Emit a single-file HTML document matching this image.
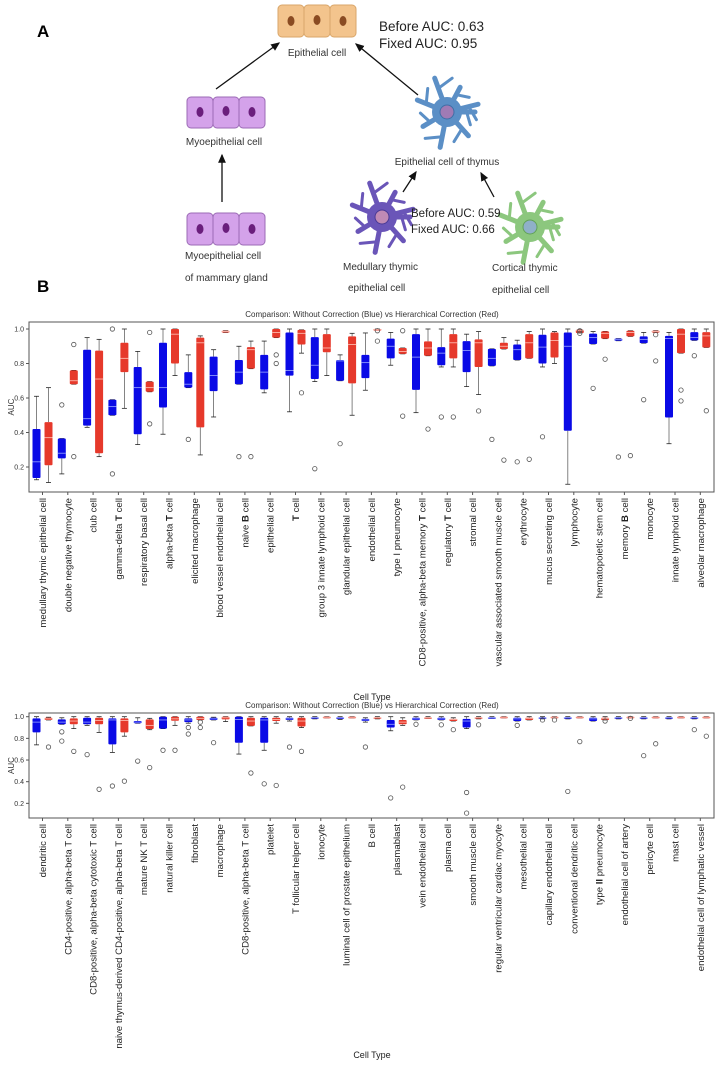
<!DOCTYPE html>
<html><head><meta charset="utf-8">
<style>
html,body{margin:0;padding:0;background:#fff;}
svg{display:block;font-family:"Liberation Sans",Arial,sans-serif;}
</style></head>
<body>
<svg id="fig" width="721" height="1083" viewBox="0 0 721 1083" xmlns="http://www.w3.org/2000/svg">
<defs>
<marker id="arr" markerWidth="8" markerHeight="8" refX="6" refY="4" orient="auto"><path d="M0,1 L7,4 L0,7 z" fill="#111"/></marker>
</defs>
<g>
<text x="37" y="37" font-size="17" font-weight="bold">A</text>
<g>
<rect x="278" y="5" width="26" height="32" rx="4" fill="#f3c48d" stroke="#d9a66a"/>
<rect x="304" y="5" width="26" height="32" rx="4" fill="#f3c48d" stroke="#d9a66a"/>
<rect x="330" y="5" width="26" height="32" rx="4" fill="#f3c48d" stroke="#d9a66a"/>
<ellipse cx="291" cy="21" rx="3.5" ry="5" fill="#8a4b22"/><ellipse cx="317" cy="20" rx="3.5" ry="5" fill="#8a4b22"/><ellipse cx="343" cy="21" rx="3.5" ry="5" fill="#8a4b22"/>
</g>
<text x="317" y="56" font-size="10" text-anchor="middle" fill="#333">Epithelial cell</text>
<text x="379" y="31" font-size="13.5" fill="#222">Before AUC: 0.63</text>
<text x="379" y="48" font-size="13.5" fill="#222">Fixed AUC: 0.95</text>
<g>
<rect x="187" y="97" width="26" height="31" rx="4" fill="#d4a2ea" stroke="#9b6bb5"/><rect x="213" y="97" width="26" height="31" rx="4" fill="#d4a2ea" stroke="#9b6bb5"/><rect x="239" y="97" width="26" height="31" rx="4" fill="#d4a2ea" stroke="#9b6bb5"/>
<ellipse cx="200" cy="112" rx="3.5" ry="5" fill="#6a1e7c"/><ellipse cx="226" cy="111" rx="3.5" ry="5" fill="#6a1e7c"/><ellipse cx="252" cy="112" rx="3.5" ry="5" fill="#6a1e7c"/>
</g>
<text x="224" y="145" font-size="10" text-anchor="middle" fill="#333">Myoepithelial cell</text>
<g>
<rect x="187" y="213" width="26" height="32" rx="4" fill="#d4a2ea" stroke="#9b6bb5"/><rect x="213" y="213" width="26" height="32" rx="4" fill="#d4a2ea" stroke="#9b6bb5"/><rect x="239" y="213" width="26" height="32" rx="4" fill="#d4a2ea" stroke="#9b6bb5"/>
<ellipse cx="200" cy="229" rx="3.5" ry="5" fill="#6a1e7c"/><ellipse cx="226" cy="228" rx="3.5" ry="5" fill="#6a1e7c"/><ellipse cx="252" cy="229" rx="3.5" ry="5" fill="#6a1e7c"/>
</g>
<text x="185" y="259" font-size="10" fill="#333">Myoepithelial cell</text>
<text x="185" y="281" font-size="10" fill="#333">of mammary gland</text>
<line x1="216" y1="89" x2="279" y2="43" stroke="#111" stroke-width="1.3" marker-end="url(#arr)"/>
<line x1="222" y1="202" x2="222" y2="155" stroke="#111" stroke-width="1.3" marker-end="url(#arr)"/>
<line x1="418" y1="95" x2="356" y2="44" stroke="#111" stroke-width="1.3" marker-end="url(#arr)"/>
<line x1="403" y1="192" x2="416" y2="172" stroke="#111" stroke-width="1.3" marker-end="url(#arr)"/>
<line x1="494" y1="197" x2="481" y2="173" stroke="#111" stroke-width="1.3" marker-end="url(#arr)"/>
<g id="stars"></g>
<text x="447" y="165" font-size="10" text-anchor="middle" fill="#333">Epithelial cell of thymus</text>
<text x="343" y="270" font-size="10" fill="#333">Medullary thymic</text>
<text x="348" y="291" font-size="10" fill="#333">epithelial cell</text>
<text x="492" y="271" font-size="10" fill="#333">Cortical thymic</text>
<text x="492" y="293" font-size="10" fill="#333">epithelial cell</text>
<text x="411" y="217" font-size="11.5" fill="#222">Before AUC: 0.59</text>
<text x="411" y="233" font-size="11.5" fill="#222">Fixed AUC: 0.66</text>
</g>
<text x="37" y="292" font-size="17" font-weight="bold">B</text>
<g id="chart1"></g>
<g id="chart2"></g>
</svg>
<script>
// ---------- Chart 1 data ----------
const topCats = ["medullary thymic epithelial cell","double negative thymocyte","club cell","gamma-delta **T** cell","respiratory basal cell","alpha-beta **T** cell","elicited macrophage","blood vessel endothelial cell","naive **B** cell","epithelial cell","**T** cell","group 3 innate lymphoid cell","glandular epithelial cell","endothelial cell","type I pneumocyte","CD8-positive, alpha-beta memory **T** cell","regulatory **T** cell","stromal cell","vascular associated smooth muscle cell","erythrocyte","mucus secreting cell","lymphocyte","hematopoietic stem cell","memory **B** cell","monocyte","innate lymphoid cell","alveolar macrophage"];
// [q1, median, q3, whiskerLow, whiskerHigh]
const topBlue = [[0.136,0.23,0.42,0.126,0.61],[0.25,0.28,0.365,0.16,0.365],[0.44,0.48,0.88,0.43,0.95],[0.50,0.55,0.59,0.50,0.59],[0.39,0.66,0.78,0.33,0.87],[0.545,0.66,0.92,0.39,1.0],[0.66,0.68,0.75,0.66,0.85],[0.64,0.73,0.84,0.49,0.88],[0.68,0.75,0.82,0.68,0.9],[0.65,0.75,0.85,0.63,0.93],[0.73,0.76,0.98,0.52,1.0],[0.71,0.79,0.953,0.695,1.0],[0.70,0.815,0.82,0.70,0.85],[0.715,0.805,0.85,0.645,0.977],[0.83,0.9,0.944,0.79,0.98],[0.647,0.837,0.97,0.515,1.0],[0.79,0.86,0.895,0.78,1.0],[0.75,0.875,0.93,0.666,0.97],[0.786,0.83,0.885,0.786,0.885],[0.82,0.88,0.91,0.82,0.935],[0.80,0.895,0.967,0.78,1.0],[0.41,0.90,0.98,0.10,1.0],[0.913,0.95,0.973,0.913,0.985],[0.932,0.938,0.944,0.932,0.944],[0.918,0.94,0.957,0.918,0.98],[0.487,0.945,0.96,0.335,0.98],[0.934,0.95,0.982,0.934,1.0]];
const topRed = [[0.21,0.37,0.46,0.11,0.66],[0.68,0.70,0.76,0.68,0.76],[0.28,0.71,0.875,0.26,0.94],[0.75,0.83,0.92,0.54,1.0],[0.636,0.66,0.695,0.636,0.695],[0.80,0.97,1.0,0.73,1.0],[0.43,0.92,0.95,0.27,0.96],[0.98,0.985,0.99,0.98,0.99],[0.77,0.88,0.895,0.77,0.93],[0.95,0.98,1.0,0.95,1.0],[0.91,0.975,0.995,0.86,0.995],[0.865,0.89,0.97,0.73,1.0],[0.685,0.91,0.957,0.50,0.975],[0.995,0.998,1.0,0.995,1.0],[0.856,0.87,0.89,0.856,0.89],[0.845,0.89,0.928,0.845,1.0],[0.83,0.92,0.97,0.78,1.0],[0.78,0.92,0.94,0.62,0.985],[0.884,0.9,0.92,0.884,0.95],[0.83,0.92,0.97,0.83,0.985],[0.835,0.934,0.98,0.80,0.985],[0.977,0.99,0.996,0.977,0.996],[0.944,0.975,0.986,0.944,0.986],[0.957,0.98,0.99,0.957,0.99],[0.98,0.985,0.99,0.98,0.99],[0.86,0.97,1.0,0.86,1.0],[0.893,0.96,0.982,0.893,1.0]];
const topBlueOut = [[],[0.56],[],[1.0,0.16],[],[],[0.36],[],[0.26],[],[],[0.19],[0.335],[],[],[],[0.49],[],[0.36],[0.23],[0.375],[],[0.656],[0.258],[0.59],[],[0.845]];
const topRedOut = [[],[0.91,0.26],[],[],[0.98,0.45],[],[],[],[0.26],[0.85,0.8],[0.63],[],[],[0.99,0.93],[0.99,0.495],[0.42],[0.49],[0.525],[0.24],[0.245],[],[0.99,0.975],[0.825],[0.266],[0.967,0.815],[0.646,0.583],[0.526]];
const topTicks = [0.2,0.4,0.6,0.8,1.0];

// ---------- Chart 2 data ----------
const botCats = ["dendritic cell","CD4-positive, alpha-beta T cell","CD8-positive, alpha-beta cytotoxic T cell","naive thymus-derived CD4-positive, alpha-beta T cell","mature NK T cell","natural killer cell","fibroblast","macrophage","CD8-positive, alpha-beta T cell","platelet","T follicular helper cell","ionocyte","luminal cell of prostate epithelium","B cell","plasmablast","vein endothelial cell","plasma cell","smooth muscle cell","regular ventricular cardiac myocyte","mesothelial cell","capillary endothelial cell","conventional dendritic cell","type **II** pneumocyte","endothelial cell of artery","pericyte cell","mast cell","endothelial cell of lymphatic vessel"];
const botBlue = [[0.855,0.95,0.985,0.74,1.0],[0.93,0.95,0.975,0.93,0.99],[0.93,0.95,0.99,0.92,1.0],[0.745,0.97,0.985,0.67,1.0],[0.94,0.95,0.96,0.94,0.99],[0.89,0.97,1.0,0.89,1.0],[0.95,0.97,0.985,0.94,1.0],[0.97,0.98,0.99,0.97,0.995],[0.76,0.975,1.0,0.655,1.0],[0.76,0.97,0.99,0.69,1.0],[0.97,0.98,0.99,0.96,1.0],[0.985,0.99,0.995,0.98,1.0],[0.98,0.99,0.995,0.975,1.0],[0.96,0.97,0.98,0.95,0.99],[0.9,0.93,0.97,0.87,1.0],[0.97,0.98,0.99,0.97,1.0],[0.97,0.98,0.99,0.97,1.0],[0.9,0.96,0.98,0.89,1.0],[0.985,0.99,0.995,0.985,1.0],[0.96,0.98,0.99,0.96,1.0],[0.985,0.99,0.995,0.98,1.0],[0.985,0.99,0.995,0.98,1.0],[0.96,0.98,0.99,0.96,1.0],[0.985,0.99,0.995,0.98,1.0],[0.985,0.99,0.995,0.98,1.0],[0.985,0.99,0.995,0.98,1.0],[0.985,0.99,0.995,0.98,1.0]];
const botRed = [[0.97,0.98,0.99,0.97,0.995],[0.93,0.96,0.985,0.89,1.0],[0.93,0.965,0.99,0.855,1.0],[0.855,0.965,0.985,0.82,1.0],[0.886,0.92,0.975,0.88,0.985],[0.963,0.98,1.0,0.92,1.0],[0.97,0.985,1.0,0.97,1.0],[0.975,0.99,1.0,0.955,1.0],[0.915,0.96,0.99,0.915,1.0],[0.96,0.975,0.99,0.94,1.0],[0.91,0.96,0.99,0.90,1.0],[0.99,0.995,1.0,0.99,1.0],[0.99,0.995,1.0,0.99,1.0],[0.985,0.99,0.995,0.98,1.0],[0.93,0.95,0.97,0.92,0.99],[0.985,0.99,0.995,0.985,1.0],[0.96,0.975,0.98,0.96,0.99],[0.985,0.99,0.995,0.98,1.0],[0.99,0.995,1.0,0.99,1.0],[0.97,0.985,0.99,0.97,1.0],[0.99,0.995,1.0,0.99,1.0],[0.99,0.995,1.0,0.99,1.0],[0.97,0.985,0.99,0.97,1.0],[0.99,0.995,1.0,0.99,1.0],[0.99,0.995,1.0,0.99,1.0],[0.99,0.995,1.0,0.99,1.0],[0.99,0.995,1.0,0.99,1.0]];
const botBlueOut = [[],[0.86,0.775],[0.65],[0.36],[0.59],[0.69],[0.9,0.84],[0.76],[],[0.38],[0.72],[],[],[0.72],[0.25],[0.93],[0.925],[0.30,0.11],[],[0.92],[0.97],[0.31],[],[],[0.64],[],[0.88]];
const botRedOut = [[0.72],[0.68],[0.33],[0.405],[0.53],[0.69],[0.95,0.9],[],[0.48],[0.365],[0.68],[],[],[],[0.35],[],[0.88],[0.925],[],[],[0.97],[0.77],[0.96],[0.985],[0.75],[],[0.82]];
const botTicks = [0.2,0.4,0.6,0.8,1.0];

const NS = "http://www.w3.org/2000/svg";
function mk(tag, attrs, parent){const e=document.createElementNS(NS,tag);for(const k in attrs)e.setAttribute(k,attrs[k]);parent.appendChild(e);return e;}

// star-shaped cells for panel A
(function(){
  const g=document.getElementById('stars');
  const cells=[[447,112,"#5b8fc6","#3f6fa6","#a07bb5","thymus-epithelial-icon"],[382,217,"#6a55b8","#4a3a95","#c08ab5","medullary-thymic-icon"],[530,227,"#8cc77e","#62a257","#8fb0c8","cortical-thymic-icon"]];
  cells.forEach(c=>{
    const cg=mk('g',{},g);
    
    
    const angs=[0,45,95,140,190,235,280,325];
    angs.forEach((a,k)=>{const r=(a+k*3)*Math.PI/180;const L=28+(k%3)*4;
      mk('line',{x1:c[0],y1:c[1],x2:c[0]+Math.cos(r)*L,y2:c[1]+Math.sin(r)*L,stroke:c[2],'stroke-width':5,'stroke-linecap':'round'},cg);
      const r2=r+0.5;mk('line',{x1:c[0]+Math.cos(r)*L*0.7,y1:c[1]+Math.sin(r)*L*0.7,x2:c[0]+Math.cos(r2)*L*0.95,y2:c[1]+Math.sin(r2)*L*0.95,stroke:c[2],'stroke-width':3,'stroke-linecap':'round'},cg);});
    mk('circle',{cx:c[0],cy:c[1],r:15,fill:c[2]},cg);
    mk('circle',{cx:c[0],cy:c[1],r:7,fill:c[4],stroke:c[3],'stroke-width':1},cg);
  });
})();

function drawChart(gid, cats, blue, red, blueOut, redOut, ticks, box, prefix){
  const g=document.getElementById(gid);
  
  
  const x0=box.tick0, dx=box.step;
  const yS=v=>box.y1+(1-v)*box.pxPerUnit;
  const xS=i=>x0+i*dx;
  const t=mk('text',{x:372,y:box.top-5,'font-size':8,'text-anchor':'middle',fill:'#333'},g);
  t.textContent="Comparison: Without Correction (Blue) vs Hierarchical Correction (Red)";
  
  
  const frame=mk('rect',{x:box.left,y:box.top,width:box.right-box.left,height:box.bottom-box.top,fill:'none',stroke:'#555','stroke-width':1},g);
  
  
  ticks.forEach(v=>{
    mk('line',{x1:box.left-3,x2:box.left,y1:yS(v),y2:yS(v),stroke:'#555'},g);
    const tl=mk('text',{x:box.left-5,y:yS(v)+2.5,'font-size':7,'text-anchor':'end',fill:'#333'},g);
    tl.textContent=v.toFixed(1);
    
    
  });
  const yl=mk('text',{x:14,y:(box.top+box.bottom)/2,'font-size':8,'text-anchor':'middle',fill:'#333',transform:`rotate(-90 14 ${(box.top+box.bottom)/2})`},g);
  yl.textContent="AUC";
  
  
  const xl=mk('text',{x:372,y:box.xTitleY,'font-size':9,'text-anchor':'middle',fill:'#222'},g);
  xl.textContent="Cell Type";
  
  
  const bw=8;
  function drawBox(s, cx, fill, medc, name){
    const bg=mk('g',{},g);
    
    
    mk('line',{x1:cx,x2:cx,y1:yS(s[4]),y2:yS(s[2]),stroke:'#666','stroke-width':0.8},bg);
    mk('line',{x1:cx,x2:cx,y1:yS(s[0]),y2:yS(s[3]),stroke:'#666','stroke-width':0.8},bg);
    mk('line',{x1:cx-2.5,x2:cx+2.5,y1:yS(s[4]),y2:yS(s[4]),stroke:'#222','stroke-width':0.8},bg);
    mk('line',{x1:cx-2.5,x2:cx+2.5,y1:yS(s[3]),y2:yS(s[3]),stroke:'#222','stroke-width':0.8},bg);
    const h=Math.max(1.5,yS(s[0])-yS(s[2]));
    mk('rect',{x:cx-bw/2,y:yS(s[2]),width:bw,height:h,fill:fill,rx:1},bg);
    mk('line',{x1:cx-bw/2,x2:cx+bw/2,y1:yS(s[1]),y2:yS(s[1]),stroke:medc,'stroke-width':0.8},bg);
  }
  function drawOut(vals, cx, name){
    vals.forEach(v=>{
      const c=mk('circle',{cx:cx,cy:yS(v),r:2.2,fill:'none',stroke:'#555','stroke-width':0.8},g);
      
      
    });
  }
  cats.forEach((c,i)=>{
    const x=xS(i);
    mk('line',{x1:x,x2:x,y1:box.bottom,y2:box.bottom+3,stroke:'#555'},g);
    drawBox(blue[i], x-6, '#0a0ae6', '#9aa8ff', prefix+'-blue-box');
    drawBox(red[i], x+6, '#e6392b', '#ffc4b8', prefix+'-red-box');
    drawOut(blueOut[i], x-6, prefix+'-blue-outlier');
    drawOut(redOut[i], x+6, prefix+'-red-outlier');
    const ly=box.bottom+6;
    const lt=mk('text',{x:x+3.5,y:ly,'font-size':9.6,'text-anchor':'end',fill:'#222',transform:`rotate(-90 ${x+3.5} ${ly})`},g);
    
    
    c.split('**').forEach((part,k)=>{
      if(!part)return;
      const ts=mk('tspan',{},lt);
      if(k%2===1)ts.setAttribute('font-weight','bold');
      ts.textContent=part;
    });
  });
}
drawChart('chart1', topCats, topBlue, topRed, topBlueOut, topRedOut, topTicks,
  {left:29,right:714,top:322,bottom:492,y1:329,pxPerUnit:172.5,tick0:42.5,step:25.3,xTitleY:700}, 'top-chart');
drawChart('chart2', botCats, botBlue, botRed, botBlueOut, botRedOut, botTicks,
  {left:29,right:714,top:713,bottom:818,y1:716.7,pxPerUnit:108.3,tick0:42.5,step:25.3,xTitleY:1058}, 'bottom-chart');
</script>
</body></html>
